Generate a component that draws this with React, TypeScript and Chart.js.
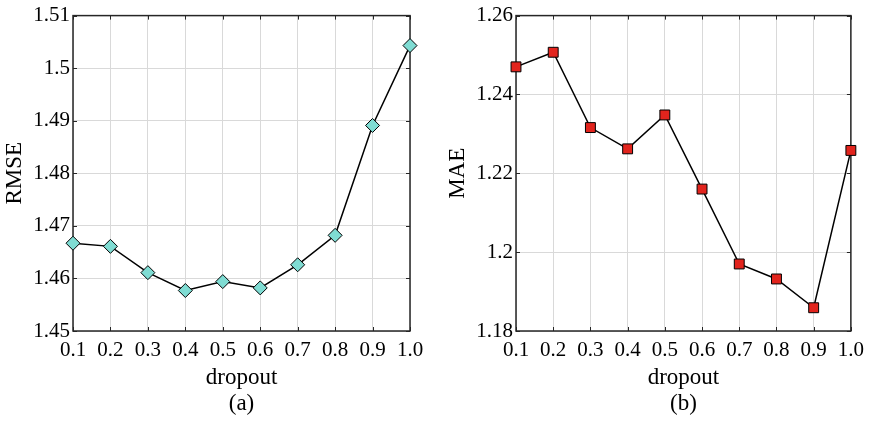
import React, { useEffect, useRef } from "react";
import { Chart, registerables } from "chart.js";

Chart.register(...registerables);

const dropoutLabels = ["0.1", "0.2", "0.3", "0.4", "0.5", "0.6", "0.7", "0.8", "0.9", "1.0"];
const rmseValues = [1.4667, 1.4661, 1.4611, 1.4577, 1.4594, 1.4582, 1.4626, 1.4682, 1.4891, 1.5043];
const maeValues = [1.247, 1.2507, 1.2316, 1.2262, 1.2348, 1.216, 1.197, 1.1932, 1.1859, 1.2258];
const rmseTicks = [1.45, 1.46, 1.47, 1.48, 1.49, 1.5, 1.51];
const maeTicks = [1.18, 1.2, 1.22, 1.24, 1.26];

const FONT = "'Liberation Serif', 'Times New Roman', serif";
const FRAME = "#262626";

const framePlugin = {
  id: "matlabFrame",
  beforeDatasetsDraw(chart: any) {
    const { ctx, chartArea: a, scales } = chart;
    ctx.save();
    ctx.strokeStyle = FRAME;
    ctx.lineWidth = 1;
    const tl = 4;
    ctx.beginPath();
    scales.x.ticks.forEach((_t: any, i: number) => {
      const px = Math.round(scales.x.getPixelForTick(i)) + 0.5;
      ctx.moveTo(px, a.bottom);
      ctx.lineTo(px, a.bottom - tl);
      ctx.moveTo(px, a.top);
      ctx.lineTo(px, a.top + tl);
    });
    scales.y.ticks.forEach((_t: any, i: number) => {
      const py = Math.round(scales.y.getPixelForTick(i)) + 0.5;
      ctx.moveTo(a.left, py);
      ctx.lineTo(a.left + tl, py);
      ctx.moveTo(a.right, py);
      ctx.lineTo(a.right - tl, py);
    });
    ctx.stroke();
    ctx.lineWidth = 1.5;
    ctx.strokeRect(a.left, a.top, a.right - a.left, a.bottom - a.top);
    ctx.restore();
  },
};

function makeConfig(opts: {
  values: number[];
  ticks: number[];
  yTitle: string;
  subLabel: string;
  pointStyle: string;
  color: string;
  radius: number;
  yWidth: number;
  rightPad: number;
  yTitlePad: number;
}) {
  const fmt = (v: number) => String(Number(Number(v).toFixed(2)));
  return {
    type: "line",
    data: {
      labels: dropoutLabels,
      datasets: [
        {
          data: opts.values,
          borderColor: "#000000",
          borderWidth: 1.5,
          pointStyle: opts.pointStyle,
          pointRadius: opts.radius,
          pointBackgroundColor: opts.color,
          pointBorderColor: "#000000",
          pointBorderWidth: 1,
          tension: 0,
          clip: false,
        },
      ],
    },
    options: {
      responsive: false,
      animation: false,
      events: [],
      layout: {
        autoPadding: false,
        padding: { top: 11, right: opts.rightPad, left: 0, bottom: 0 },
      },
      plugins: { legend: { display: false }, tooltip: { enabled: false } },
      scales: {
        x: {
          type: "category",
          offset: false,
          grid: { color: "#d9d9d9", lineWidth: 1, drawTicks: false },
          border: { display: false },
          ticks: {
            color: "#000000",
            padding: 7,
            maxRotation: 0,
            autoSkip: false,
            font: { family: FONT, size: 21 },
          },
          title: {
            display: true,
            text: ["dropout", opts.subLabel],
            color: "#000000",
            font: { family: FONT, size: 23, lineHeight: 1.13 },
            padding: { top: 0, bottom: 5 },
          },
          afterFit: (s: any) => {
            s.height = 91;
          },
        },
        y: {
          type: "linear",
          min: opts.ticks[0],
          max: opts.ticks[opts.ticks.length - 1],
          grid: { color: "#d9d9d9", lineWidth: 1, drawTicks: false },
          border: { display: false },
          afterBuildTicks: (s: any) => {
            s.ticks = opts.ticks.map((v) => ({ value: v }));
          },
          ticks: {
            color: "#000000",
            padding: 3,
            font: { family: FONT, size: 21 },
            callback: (v: any) => fmt(v),
          },
          title: {
            display: true,
            text: opts.yTitle,
            color: "#000000",
            font: { family: FONT, size: 23, lineHeight: 1.13 },
            padding: { top: opts.yTitlePad, bottom: 0 },
          },
          afterFit: (s: any) => {
            s.width = opts.yWidth;
          },
        },
      },
    },
    plugins: [framePlugin],
  } as any;
}

function ChartCanvas(props: { config: any; width: number; height: number; left: number }) {
  const ref = useRef<HTMLCanvasElement | null>(null);
  useEffect(() => {
    if (!ref.current) return;
    const chart = new Chart(ref.current, props.config);
    return () => chart.destroy();
  }, []);
  return (
    <canvas
      ref={ref}
      width={props.width}
      height={props.height}
      style={{ position: "absolute", left: props.left, top: 0, width: props.width, height: props.height }}
    />
  );
}

export default function App() {
  const left = makeConfig({
    values: rmseValues,
    ticks: rmseTicks,
    yTitle: "RMSE",
    subLabel: "(a)",
    pointStyle: "rectRot",
    color: "#7fdcd3",
    radius: 7,
    yWidth: 73,
    rightPad: 25,
    yTitlePad: 2,
  });
  const right = makeConfig({
    values: maeValues,
    ticks: maeTicks,
    yTitle: "MAE",
    subLabel: "(b)",
    pointStyle: "rect",
    color: "#e2241d",
    radius: 7,
    yWidth: 81,
    rightPad: 19,
    yTitlePad: 10,
  });
  return (
    <div style={{ position: "absolute", left: 0, top: 0, width: 871, height: 422, background: "#ffffff" }}>
      <ChartCanvas config={left} width={435} height={422} left={0} />
      <ChartCanvas config={right} width={436} height={422} left={435} />
    </div>
  );
}
